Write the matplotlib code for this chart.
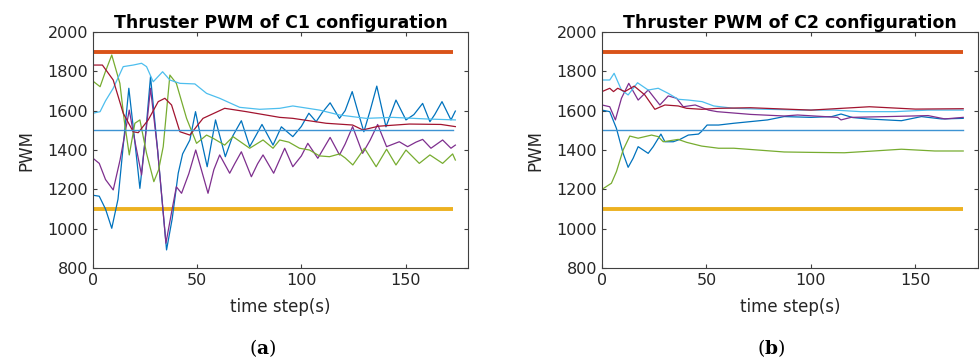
import matplotlib
matplotlib.use('Agg')
from matplotlib import pyplot as plt

# limits drawn on both panels
pwm_max = 1900
pwm_min = 1100
pwm_mid = 1500
t_ref = [0, 173]

# C1 configuration (time step, PWM)
c1_blue_t = [0, 3, 6, 9, 12, 17.2, 20, 22.5, 25, 27.6, 31, 35.3, 38, 40.9, 43, 46.5, 49.2, 52, 54.8, 58.8,
             63.5, 67, 71.2, 75.2, 78, 81.1, 86.4, 90.4, 95.9, 100, 103.6, 107.1, 110, 113.8, 118.3, 121,
             124.4, 127, 130, 133, 136.2, 140.6, 145.4, 150.2, 154, 158.2, 161.7, 164, 167.5, 171.8, 173.9]
c1_blue = [1170, 1165, 1100, 1002, 1150, 1714, 1450, 1205, 1450, 1773, 1400, 892, 1050, 1282, 1380, 1451,
           1595, 1450, 1315, 1553, 1366, 1470, 1549, 1417, 1470, 1530, 1425, 1518, 1468, 1520, 1587, 1544,
           1590, 1640, 1561, 1600, 1697, 1600, 1493, 1600, 1725, 1518, 1654, 1553, 1580, 1637, 1544, 1580,
           1646, 1553, 1598]

c1_purple_t = [0, 3, 6, 9.7, 13, 17.4, 20, 23.3, 25.5, 27.6, 31, 35, 38, 40, 42.5, 46, 49.3, 52, 55.2, 58,
               60.8, 65.6, 68, 71.2, 76, 79, 81.6, 86.7, 92, 95.9, 100, 103.1, 107.9, 113.8, 118.3, 121,
               124.6, 129.4, 133, 136.6, 140.9, 147, 151, 155, 158.2, 162.2, 167.8, 171.8, 173.9]
c1_purple = [1358, 1332, 1250, 1197, 1350, 1603, 1450, 1273, 1500, 1714, 1400, 926, 1100, 1213, 1180, 1280,
             1400, 1300, 1180, 1300, 1375, 1282, 1330, 1391, 1264, 1330, 1375, 1282, 1409, 1315, 1370, 1434,
             1358, 1464, 1375, 1430, 1519, 1383, 1450, 1530, 1417, 1442, 1417, 1440, 1454, 1409, 1451, 1409,
             1425]

c1_green_t = [0, 3.4, 6, 9, 12.9, 15, 17.4, 20.1, 22.5, 25.7, 29.2, 31.5, 33.7, 36.9, 40, 44.9, 49.7, 54.5,
              57.6, 63.2, 67.2, 71, 75.2, 81.6, 86.4, 89.6, 94, 99.1, 103.9, 108.7, 113.5, 118.3, 121, 124.7,
              130.3, 135.9, 140.9, 145.4, 150.2, 156.6, 161.7, 167.8, 172.6, 173.9]
c1_green = [1750, 1722, 1800, 1883, 1739, 1550, 1375, 1536, 1553, 1383, 1239, 1300, 1417, 1781, 1739, 1561,
            1434, 1476, 1460, 1425, 1468, 1440, 1409, 1451, 1409, 1451, 1440, 1409, 1400, 1370, 1366, 1380,
            1360, 1324, 1409, 1315, 1404, 1324, 1400, 1332, 1375, 1332, 1380, 1349]

c1_cyan_t = [0, 3.4, 6, 9.7, 14.5, 19.3, 23.3, 25.7, 28.9, 33.4, 36.9, 41.7, 48.9, 54.5, 60.8, 70.4, 80,
             89.6, 95.9, 108.7, 118.3, 131.1, 143.8, 159.8, 173.9]
c1_cyan = [1587, 1595, 1650, 1714, 1824, 1832, 1841, 1824, 1747, 1798, 1756, 1739, 1736, 1688, 1663, 1617,
           1607, 1612, 1624, 1603, 1578, 1561, 1566, 1558, 1553]

c1_red_t = [0, 4.5, 9.7, 14.5, 19.3, 21.7, 26.5, 31.3, 34.5, 37.7, 41.7, 46.5, 52.8, 63.2, 73.6, 89.6, 95.9,
            111.9, 124.6, 129.5, 137, 151.8, 167, 173.9]
c1_red = [1832, 1832, 1756, 1587, 1493, 1488, 1553, 1646, 1663, 1629, 1493, 1476, 1561, 1612, 1595, 1566,
          1561, 1536, 1527, 1502, 1521, 1532, 1530, 1519]

# C2 configuration (time step, PWM)
c2_blue_t = [0, 3.7, 6.9, 10.1, 12.5, 14.9, 17.3, 22.1, 24.5, 28.2, 30.1, 34.1, 37.3, 41.3, 46.2, 47.5, 50.3,
             55.8, 63.1, 79.2, 87.2, 100, 110, 114.4, 120, 127.3, 143.3, 152.9, 162.5, 172.9]
c2_blue = [1603, 1595, 1510, 1383, 1312, 1358, 1417, 1383, 1417, 1481, 1442, 1442, 1454, 1476, 1481, 1493,
           1527, 1527, 1536, 1553, 1570, 1566, 1570, 1583, 1565, 1558, 1549, 1570, 1558, 1561]

c2_purple_t = [0, 3.7, 6.4, 9.3, 12.8, 17.3, 22.1, 27.7, 31.7, 35.7, 38.9, 44.6, 51, 55.1, 71.2, 87.2, 93.6,
               112.8, 114.4, 119.2, 136.9, 156.1, 164.1, 172.9]
c2_purple = [1629, 1620, 1553, 1663, 1739, 1654, 1705, 1629, 1675, 1663, 1620, 1629, 1603, 1595, 1581, 1573,
             1578, 1566, 1553, 1566, 1570, 1575, 1558, 1566]

c2_green_t = [0, 4.5, 6.9, 10.1, 13.3, 17.3, 23.7, 26.9, 29.3, 36.5, 40.5, 47.7, 55.8, 63.1, 87.2, 100, 116,
              130, 143.3, 159.3, 172.9]
c2_green = [1200, 1231, 1290, 1400, 1471, 1460, 1476, 1468, 1442, 1454, 1439, 1420, 1409, 1409, 1390, 1388,
            1386, 1395, 1404, 1395, 1395]

c2_cyan_t = [0, 3.7, 5.8, 9.3, 12.5, 17, 22.1, 26.9, 31.7, 36.5, 41.3, 47.9, 53.5, 63.1, 79.2, 95.2, 111.2,
             124, 140.1, 156.1, 172.9]
c2_cyan = [1756, 1756, 1790, 1705, 1680, 1742, 1705, 1714, 1688, 1658, 1654, 1646, 1624, 1612, 1607, 1603,
           1603, 1595, 1595, 1603, 1603]

c2_red_t = [0, 3.7, 5.5, 7.5, 10.9, 15.4, 20.5, 25.3, 30.1, 36.5, 40.5, 47.7, 55.8, 71, 100, 128, 150, 172.9]
c2_red = [1697, 1714, 1697, 1714, 1697, 1725, 1680, 1607, 1629, 1624, 1612, 1607, 1612, 1615, 1603, 1620,
          1608, 1610]

col_blue = '#0072BD'
col_orange = '#D95319'
col_yellow = '#EDB120'
col_purple = '#7E2F8E'
col_green = '#77AC30'
col_cyan = '#4DBEEE'
col_red = '#A2142F'

plt.rcParams['font.family'] = 'DejaVu Sans'
plt.rcParams['mathtext.fontset'] = 'dejavuserif'

fig = plt.figure(figsize=(9.8, 3.63), dpi=100)
ax1 = fig.add_axes([0.0949, 0.2617, 0.3827, 0.6501])
ax2 = fig.add_axes([0.6143, 0.2617, 0.3837, 0.6501])

panels = [
    (ax1, 'Thruster PWM of C1 configuration', 'a', 0.268,
     [(c1_blue_t, c1_blue, col_blue), (c1_purple_t, c1_purple, col_purple), (c1_green_t, c1_green, col_green),
      (c1_cyan_t, c1_cyan, col_cyan), (c1_red_t, c1_red, col_red)]),
    (ax2, 'Thruster PWM of C2 configuration', 'b', 0.787,
     [(c2_blue_t, c2_blue, col_blue), (c2_purple_t, c2_purple, col_purple), (c2_green_t, c2_green, col_green),
      (c2_cyan_t, c2_cyan, col_cyan), (c2_red_t, c2_red, col_red)]),
]

for ax, title, tag, tag_x, series in panels:
    ax.plot(t_ref, [pwm_max, pwm_max], color=col_orange, lw=2.8, solid_capstyle='butt')
    ax.plot(t_ref, [pwm_min, pwm_min], color=col_yellow, lw=2.8, solid_capstyle='butt')
    for t, v, c in series:
        ax.plot(t, v, color=c, lw=0.9)
    ax.plot(t_ref, [pwm_mid, pwm_mid], color='#3d93d3', lw=1.0)
    ax.set_xlim(0, 180)
    ax.set_ylim(800, 2000)
    ax.set_xticks([0, 50, 100, 150])
    ax.set_yticks(range(800, 2001, 200))
    ax.tick_params(direction='in', top=True, right=True, labelsize=11.5, length=3,
                   color='#404040', labelcolor='#262626')
    for sp in ax.spines.values():
        sp.set_color('#404040')
        sp.set_linewidth(0.8)
    ax.set_title(title, fontsize=12.5, fontweight='bold', pad=3)
    ax.set_xlabel('time step(s)', fontsize=12, color='#262626', labelpad=7)
    ax.set_ylabel('PWM', fontsize=12, color='#262626', labelpad=9)
    fig.text(tag_x, 0.04, '($\\mathbf{' + tag + '}$)', fontsize=13.5, family='DejaVu Serif',
             ha='center', va='center')

plt.savefig('out.png', dpi=100)
plt.close('all')
